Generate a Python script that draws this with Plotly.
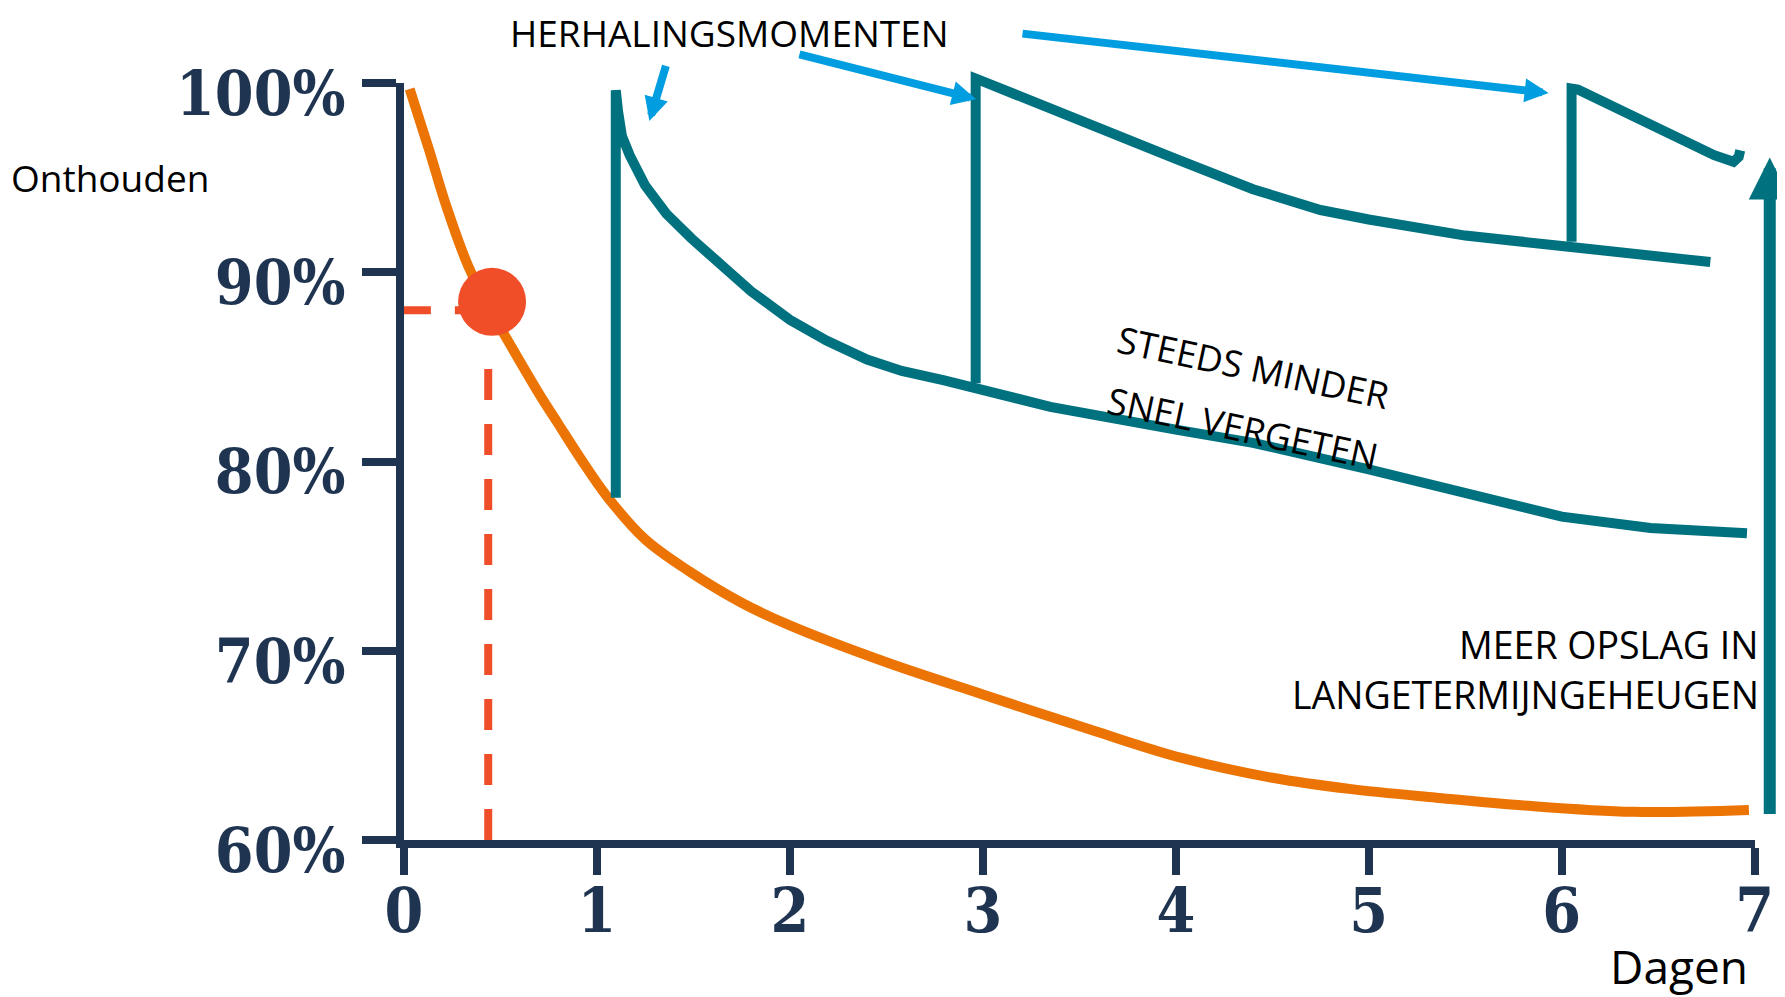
import plotly.graph_objects as go

# ---- data (days, % remembered) ----
# forgetting curve without repetition
orange_days = [0.03, 0.13, 0.22, 0.335, 0.458, 0.567, 0.70, 0.80, 0.92, 1.05, 1.25, 1.48,
               1.75, 2.0, 2.5, 3.0, 3.6, 4.03, 4.5, 4.91, 5.35, 5.79, 6.37, 6.97]
orange_pct = [99.7, 96.5, 93.5, 90.3, 87.85, 85.9, 83.6, 82.0, 80.1, 78.2, 75.9, 74.2,
              72.55, 71.35, 69.4, 67.7, 65.7, 64.35, 63.3, 62.7, 62.25, 61.85, 61.5, 61.6]

# repetition 1 (day ~1.1), continues as the lower teal curve
rep1_days = [1.098, 1.098, 1.11, 1.13, 1.17, 1.25, 1.36, 1.49, 1.65, 1.80, 2.0, 2.19, 2.4,
             2.58, 2.8, 3.01, 3.35, 4.0, 4.4, 5.0, 5.5, 6.0, 6.46, 6.96]
rep1_pct = [78.1, 99.63, 98.5, 97.2, 96.2, 94.6, 93.1, 91.8, 90.3, 89.0, 87.5, 86.4, 85.4,
            84.8, 84.3, 83.75, 82.9, 81.7, 81.0, 79.6, 78.3, 77.1, 76.5, 76.22]

# repetition 2 (day ~3)
rep2_days = [2.963, 2.963, 3.0, 3.39, 4.0, 4.4, 4.75, 5.0, 5.5, 6.0, 6.4, 6.77]
rep2_pct = [84.15, 100.25, 100.1, 98.45, 96.0, 94.4, 93.3, 92.8, 91.95, 91.4, 90.95, 90.55]

# repetition 3 (day ~6)
rep3_days = [6.051, 6.051, 6.084, 6.44, 6.79, 6.89, 6.917, 6.925]
rep3_pct = [91.62, 99.72, 99.67, 97.88, 96.2, 95.85, 96.11, 96.45]

# moment marked with the red dot
dot_day = [0.457]
dot_pct = [88.45]
dash_h_days = [-0.026, 0.457]
dash_h_pct = [88.0, 88.0]
dash_v_days = [0.437, 0.437]
dash_v_pct = [84.9, 60.0]

# "herhalingsmomenten" arrows: (tail day, tail pct, tip day, tip pct)
rep_arrows = [(1.360, 101.0, 1.272, 98.0),
              (2.042, 101.54, 2.965, 99.16),
              (3.198, 102.63, 5.932, 99.48)]
# long-term storage arrow
storage_arrow = (7.078, 61.3, 7.078, 96.08)

x_ticks = [0, 1, 2, 3, 4, 5, 6, 7]
y_ticks = [60, 70, 80, 90, 100]
y_ticktext = ["60%", "70%", "80%", "90%", "100%"]

# ---- layout geometry ----
OFF = 8                         # page body margin
W, H = 1785 - OFF, 997 - OFF
X0, XSCALE = 404.1 - OFF, 192.9      # pixel of day 0, pixels per day
Y60, YSCALE = 840.1 - OFF, 18.93     # pixel of 60%, pixels per %
XR = [-0.3, 7.1]
YR = [57, 103.5]
L = X0 + XR[0] * XSCALE
R = W - (X0 + XR[1] * XSCALE)
T = Y60 - (YR[1] - 60) * YSCALE
B = H - (Y60 + (60 - YR[0]) * YSCALE)


def paper(px, py):
    px, py = px - OFF, py - OFF
    return (px - L) / (W - L - R), (H - B - py) / (H - T - B)


NAVY = "#1e3450"
TEAL = "#00717f"
ORANGE = "#ec7404"
RED = "#f04e28"
BLUE = "#009ee0"
TXT_FONT = "Open Sans, Lato, sans-serif"

fig = go.Figure()

fig.add_trace(go.Scatter(x=orange_days, y=orange_pct, mode="lines",
                         line=dict(color=ORANGE, width=10, shape="spline", smoothing=1.0)))
fig.add_trace(go.Scatter(x=dash_h_days, y=dash_h_pct, mode="lines",
                         line=dict(color=RED, width=8, dash="32px,24px")))
fig.add_trace(go.Scatter(x=dash_v_days, y=dash_v_pct, mode="lines",
                         line=dict(color=RED, width=8, dash="31px,24px")))
fig.add_trace(go.Scatter(x=dot_day, y=dot_pct, mode="markers",
                         marker=dict(color=RED, size=68, line=dict(width=0))))
for dd, pp in [(rep1_days, rep1_pct), (rep2_days, rep2_pct), (rep3_days, rep3_pct)]:
    fig.add_trace(go.Scatter(x=dd, y=pp, mode="lines",
                             line=dict(color=TEAL, width=10)))

# visible axes live on a second subplot that covers exactly 0-7 days / 60-100%
xdom = [(0 - XR[0]) / (XR[1] - XR[0]), (7 - XR[0]) / (XR[1] - XR[0])]
ydom = [(60 - YR[0]) / (YR[1] - YR[0]), (100 - YR[0]) / (YR[1] - YR[0])]
fig.add_trace(go.Scatter(x=[None], y=[None], xaxis="x2", yaxis="y2", showlegend=False))

annotations = []
for tx, ty, hx, hy in rep_arrows:
    annotations.append(dict(x=hx, y=hy, ax=tx, ay=ty, xref="x", yref="y", axref="x", ayref="y",
                            text="", showarrow=True, arrowhead=2, arrowsize=0.6,
                            arrowwidth=8, arrowcolor=BLUE))
tx, ty, hx, hy = storage_arrow
annotations.append(dict(x=hx, y=hy, ax=tx, ay=ty, xref="x", yref="y", axref="x", ayref="y",
                        text="", showarrow=True, arrowhead=2, arrowsize=0.7,
                        arrowwidth=12, arrowcolor=TEAL))


def label(text, px, py, size, xanchor="center", angle=0):
    x, y = paper(px, py)
    annotations.append(dict(text=text, x=x, y=y, xref="paper", yref="paper", showarrow=False,
                            xanchor=xanchor, yanchor="middle", textangle=angle, borderpad=0,
                            font=dict(family=TXT_FONT, size=size, color="#000000")))


label("HERHALINGSMOMENTEN", 729.5, 32, 37)
label("Onthouden", 10, 177, 37, xanchor="left")
label("Dagen", 1749, 966, 46, xanchor="right")
label("MEER OPSLAG IN", 1760, 644, 37.5, xanchor="right")
label("LANGETERMIJNGEHEUGEN", 1760, 694, 37.5, xanchor="right")
label("STEEDS MINDER", 1253, 367, 36.5, angle=12)
label("SNEL VERGETEN", 1243, 428, 36.5, angle=12)

tick_font = dict(family="DejaVu Serif Condensed, DejaVu Serif, serif", size=62,
                 color=NAVY, weight="bold")

fig.update_layout(
    width=W, height=H,
    margin=dict(l=L, r=R, t=T, b=B, pad=0, autoexpand=False),
    paper_bgcolor="white", plot_bgcolor="rgba(0,0,0,0)",
    showlegend=False,
    xaxis=dict(range=XR, visible=False, fixedrange=True),
    yaxis=dict(range=YR, visible=False, fixedrange=True),
    xaxis2=dict(domain=xdom, anchor="y2", range=[0, 7], tickvals=x_ticks,
                ticktext=[str(v) for v in x_ticks], ticks="outside", ticklen=27, tickwidth=8,
                tickcolor=NAVY, showline=True, linewidth=8, linecolor=NAVY,
                showgrid=False, zeroline=False, tickfont=tick_font, fixedrange=True,
                ticklabelstandoff=-18),
    yaxis2=dict(domain=ydom, anchor="x2", range=[60, 100], tickvals=y_ticks,
                ticktext=y_ticktext, ticks="outside", ticklen=34, tickwidth=8,
                tickcolor=NAVY, showline=True, linewidth=8, linecolor=NAVY,
                showgrid=False, zeroline=False, tickfont=tick_font, fixedrange=True,
                ticklabelshift=10, ticklabelstandoff=4),
    annotations=annotations,
)

fig.write_html("out.html")
